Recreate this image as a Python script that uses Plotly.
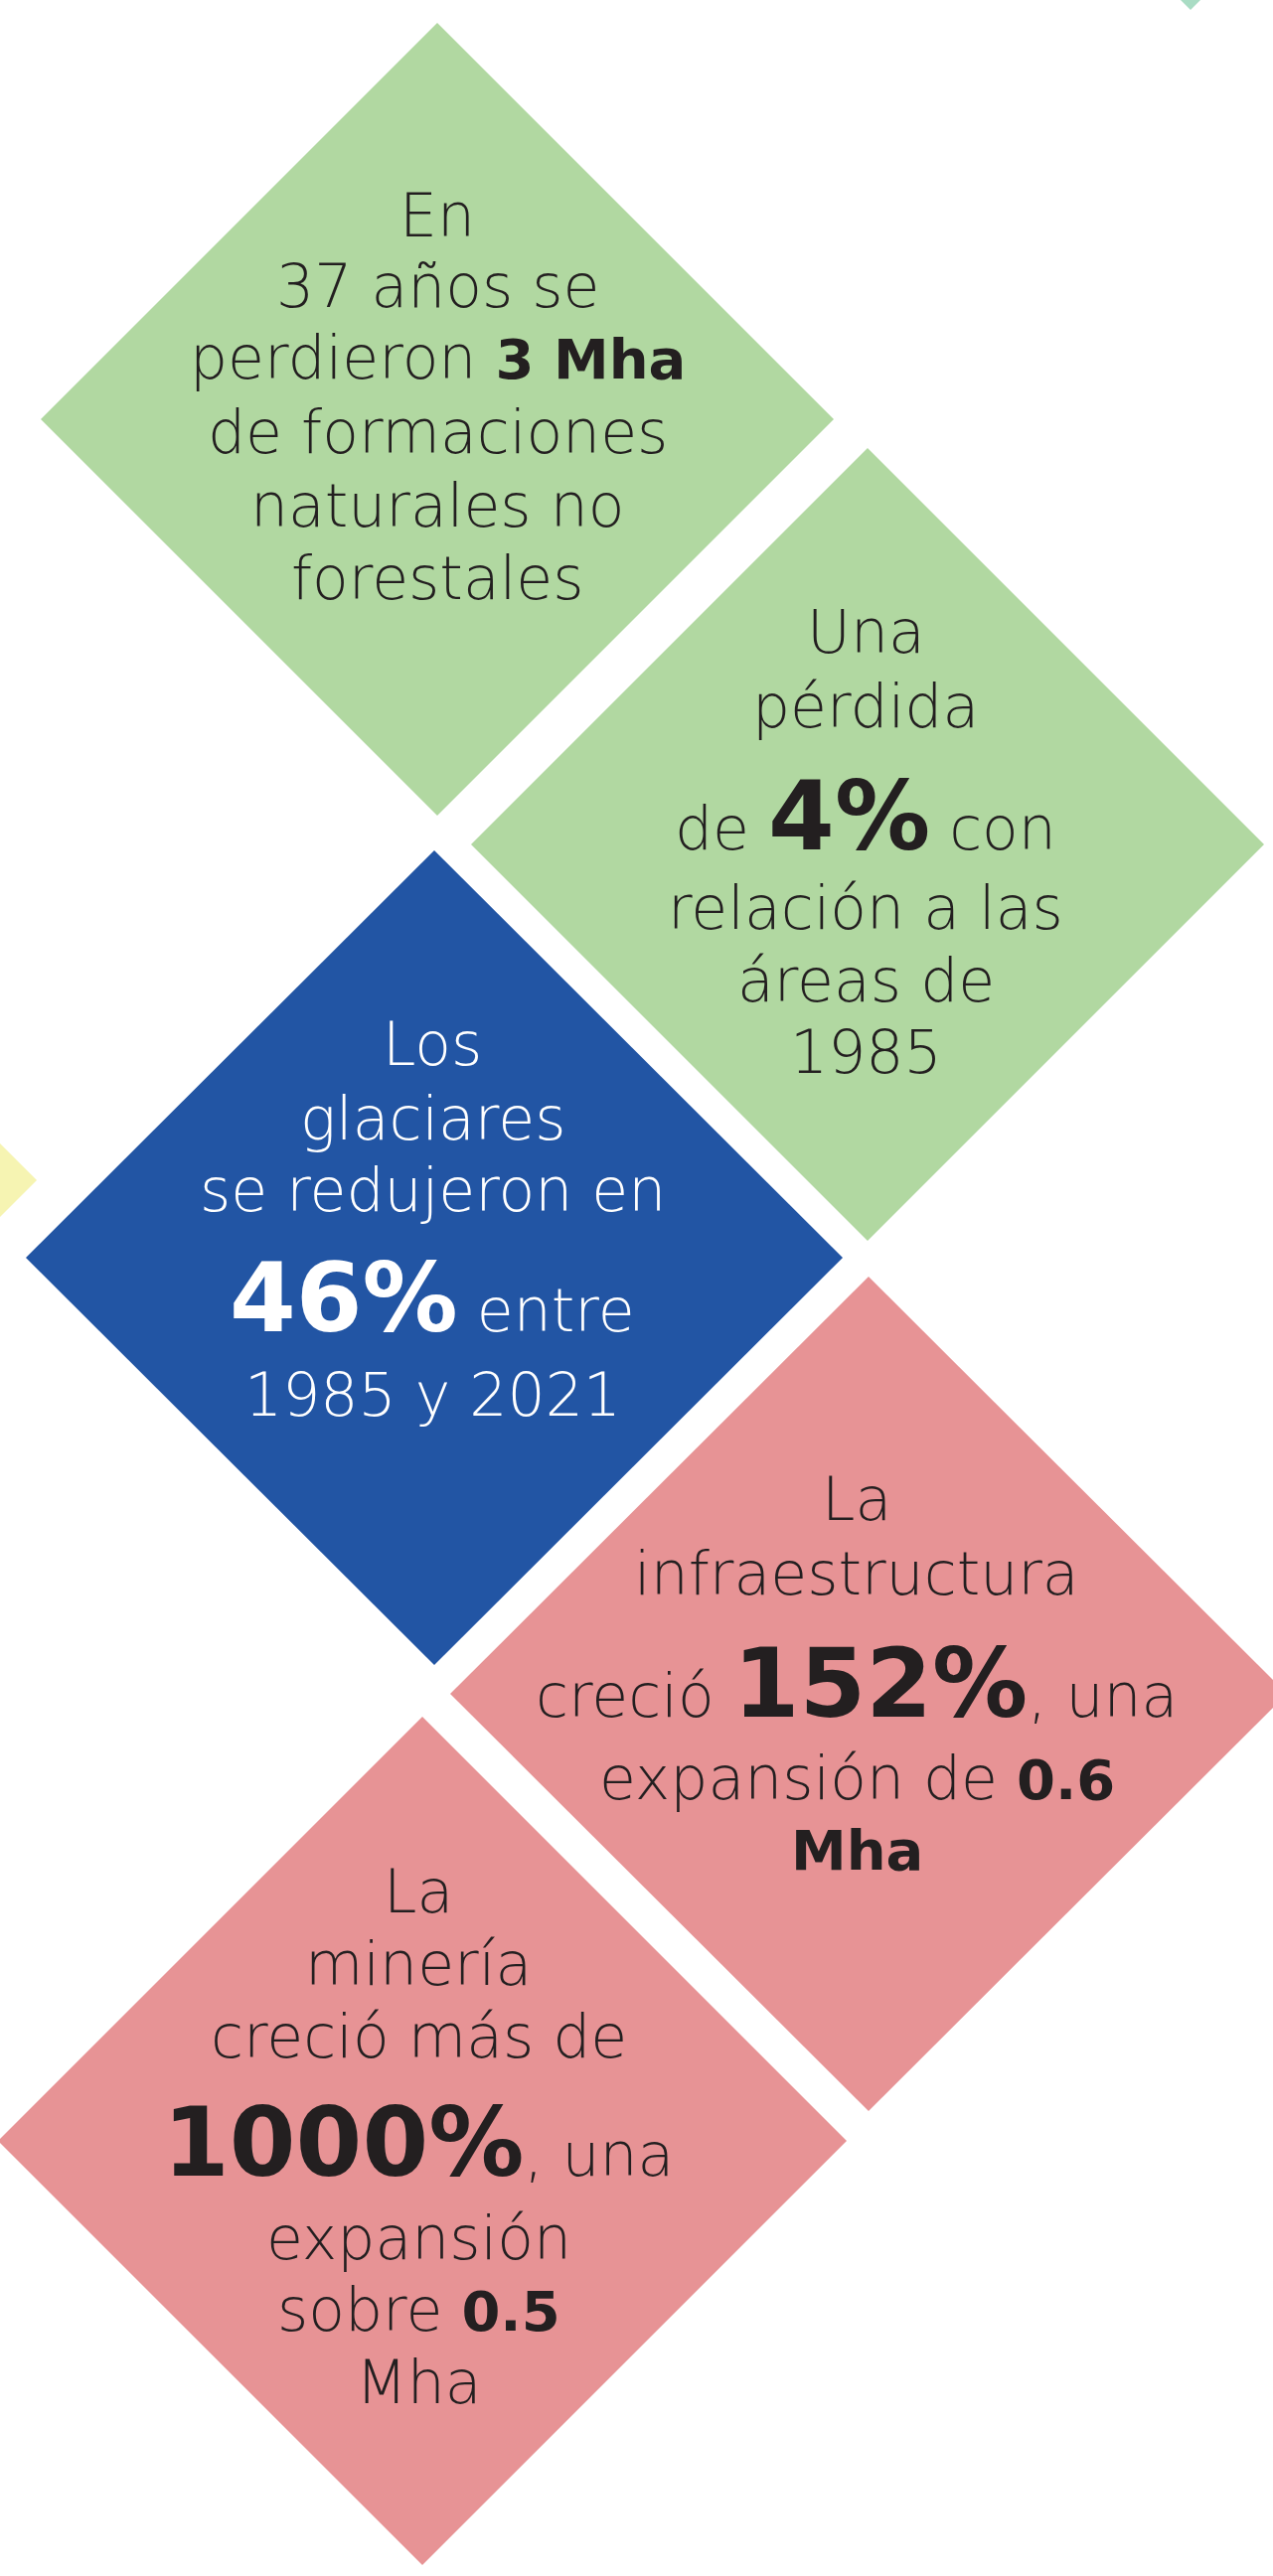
import plotly.graph_objects as go

W, H = 1281, 2593

# Diamond panels: colour and geometry (center x, center y, half width, half height)
diamond_colors = ["#b1d8a1", "#b1d8a1", "#2255a4", "#e79395", "#e79395", "#f6f4b2", "#a9dcc4"]
diamond_cx = [440, 873, 437, 874, 425, -12, 1198]
diamond_cy = [422, 850, 1266, 1705, 2155, 1188, -400]
diamond_hw = [399, 399, 411, 421, 427, 49, 410]
diamond_hh = [399, 399, 410, 420, 427, 49, 410]

BIG = "font-size:96px"
BLD = "font-size:56px"
# Text lines per panel
panel1 = ["En", "37 años se", f"perdieron <b><span style='{BLD}'>3 Mha</span></b>",
          "de formaciones", "naturales no", "forestales"]
panel2 = ["Una", "pérdida", f"de <b><span style='{BIG}'>4%</span></b> con",
          "relación a las", "áreas de", "1985"]
panel3 = ["Los", "glaciares", "se redujeron en",
          f"<b><span style='{BIG}'>46%</span></b> entre", "1985 y 2021"]
panel4 = ["La", "infraestructura", f"creció <b><span style='{BIG}'>152%</span></b>, una",
          f"expansión de <b><span style='{BLD}'>0.6</span></b>", f"<b><span style='{BLD}'>Mha</span></b>"]
panel5 = ["La", "minería", "creció más de", f"<b><span style='{BIG}'>1000%</span></b>, una",
          "expansión", f"sobre <b><span style='{BLD}'>0.5</span></b>", "Mha"]

panel_texts = [panel1, panel2, panel3, panel4, panel5]
panel_text_x = [440, 871, 435, 862, 421]
panel_line_y = [
    [217, 288, 360, 435, 509, 582],
    [636, 711, 822, 914, 987, 1059],
    [1051, 1126, 1198, 1307, 1404],
    [1509, 1584, 1695, 1790, 1862],
    [1904, 1977, 2050, 2157, 2253, 2325, 2398],
]
panel_text_color = ["#231f20", "#231f20", "#ffffff", "#231f20", "#231f20"]

fig = go.Figure()

for c, cx, cy, hw, hh in zip(diamond_colors, diamond_cx, diamond_cy, diamond_hw, diamond_hh):
    fig.add_trace(go.Scatter(
        x=[cx, cx + hw, cx, cx - hw, cx],
        y=[cy - hh, cy, cy + hh, cy, cy - hh],
        mode="lines", fill="toself", fillcolor=c,
        line=dict(width=0, color=c), hoverinfo="skip", showlegend=False,
    ))

FONT = "DejaVu Sans"
for lines, tx, ys, col in zip(panel_texts, panel_text_x, panel_line_y, panel_text_color):
    for t, y in zip(lines, ys):
        fig.add_annotation(
            x=tx, y=y, xref="x", yref="y", text=t, showarrow=False,
            xanchor="center", yanchor="middle",
            font=dict(family=FONT, size=60, color=col, weight=200),
        )

fig.update_layout(
    width=W, height=H,
    margin=dict(l=0, r=0, t=0, b=0),
    paper_bgcolor="white", plot_bgcolor="white",
    xaxis=dict(range=[0, W], visible=False, fixedrange=True),
    yaxis=dict(range=[H, 0], visible=False, fixedrange=True),
    showlegend=False,
)

fig.write_html(
    "out.html",
    config={"displayModeBar": False},
    post_script="document.body.style.margin='0';document.body.style.overflow='hidden';",
)
